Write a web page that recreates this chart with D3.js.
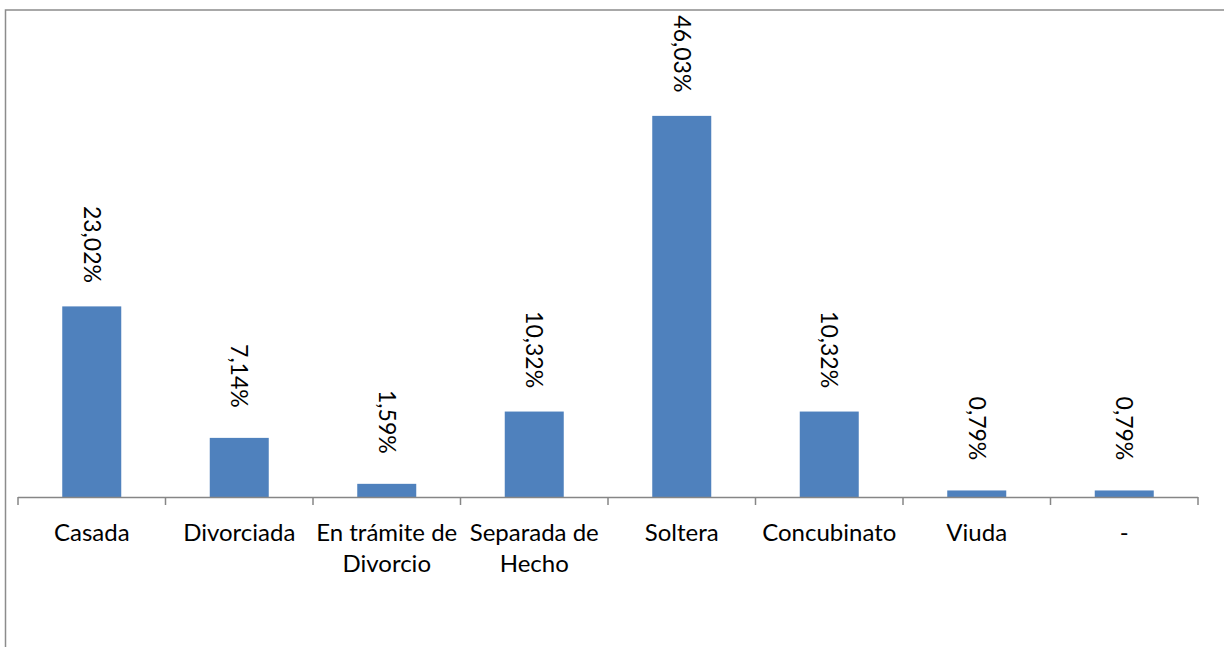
<!DOCTYPE html>
<html>
<head>
    <meta charset="utf-8">
    <style>
        body {
            margin: 0;
            background: white;
        }

        svg {
            display: block;
            font-family: Lato, 'Open Sans', sans-serif;
        }
    </style>
</head>
<body>
    <svg width="1224" height="647"></svg>

<script src="https://d3js.org/d3.v7.min.js"></script>
<script>
    // categories and values
    let categories = ["Casada", "Divorciada", "En trámite de Divorcio", "Separada de Hecho", "Soltera", "Concubinato", "Viuda", "-"]
    let categoryLines = [["Casada"], ["Divorciada"], ["En trámite de", "Divorcio"], ["Separada de", "Hecho"], ["Soltera"], ["Concubinato"], ["Viuda"], ["-"]]
    let values = [23.02, 7.14, 1.59, 10.32, 46.03, 10.32, 0.79, 0.79]
    let valueLabels = ["23,02%", "7,14%", "1,59%", "10,32%", "46,03%", "10,32%", "0,79%", "0,79%"]

    let data = categories.map((c, i) => ({ cat: c, lines: categoryLines[i], value: values[i], label: valueLabels[i] }))

    let svg = d3.select("svg")

    // chart area border (only left & top visible in the picture)
    svg.append("rect")
        .attr("x", 5.5)
        .attr("y", 10)
        .attr("width", 1400)
        .attr("height", 800)
        .style("fill", "none")
        .style("stroke", "#8c8c8c")
        .style("stroke-width", 1.5)

    let x = d3.scaleBand()
        .domain(categories)
        .range([18, 1198])
        .padding(0)

    let y = d3.scaleLinear()
        .domain([0, 50])
        .range([497, 83])

    let barW = x.bandwidth() * 0.4

    svg.selectAll(".bar")
        .data(data)
        .join("rect")
        .attr("class", "bar")
        .attr("x", d => x(d.cat) + (x.bandwidth() - barW) / 2)
        .attr("y", d => y(d.value))
        .attr("width", barW)
        .attr("height", d => y(0) - y(d.value))
        .style("fill", "#4f81bd")

    // x axis line and tick marks at the category boundaries
    svg.append("line")
        .attr("x1", x.range()[0])
        .attr("x2", x.range()[1])
        .attr("y1", y(0) + 0.5)
        .attr("y2", y(0) + 0.5)
        .style("stroke", "#868686")
        .style("stroke-width", 1.5)

    let tickXs = categories.map(c => x(c)).concat([x.range()[1]])
    svg.selectAll(".tick")
        .data(tickXs)
        .join("line")
        .attr("class", "tick")
        .attr("x1", d => d)
        .attr("x2", d => d)
        .attr("y1", y(0))
        .attr("y2", y(0) + 8)
        .style("stroke", "#868686")
        .style("stroke-width", 1.5)

    // category labels
    let catText = svg.selectAll(".cat")
        .data(data)
        .join("text")
        .attr("class", "cat")
        .attr("text-anchor", "middle")
        .style("font-size", "24px")
        .style("fill", "#000")

    catText.selectAll("tspan")
        .data(d => d.lines.map(l => ({ l: l, cx: x(d.cat) + x.bandwidth() / 2 })))
        .join("tspan")
        .attr("x", d => d.cx)
        .attr("y", (d, i) => 541 + i * 31)
        .text(d => d.l)

    // rotated value labels
    svg.selectAll(".val")
        .data(data)
        .join("text")
        .attr("class", "val")
        .attr("transform", d => "translate(" + (x(d.cat) + x.bandwidth() / 2) + "," + (y(d.value) - 62) + ") rotate(90)")
        .attr("text-anchor", "middle")
        .attr("dy", "0.35em")
        .style("font-size", "23px")
        .style("fill", "#000")
        .text(d => d.label)
</script>
</body>
</html>
